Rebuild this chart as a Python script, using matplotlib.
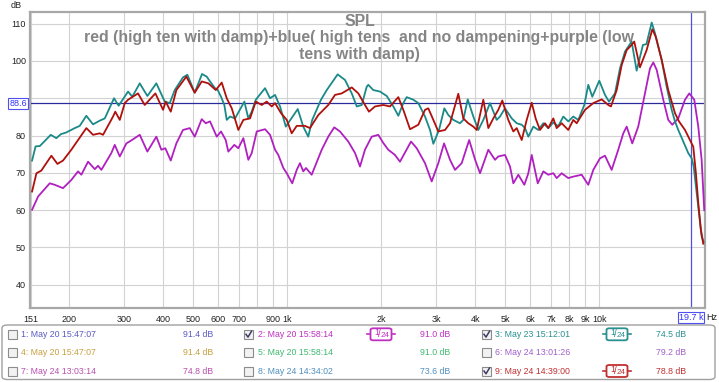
import matplotlib
matplotlib.use("Agg")
import matplotlib.pyplot as plt
from matplotlib.patches import FancyBboxPatch, Rectangle
from matplotlib.lines import Line2D

plt.rcParams['font.family'] = ['Liberation Sans', 'DejaVu Sans']

# ---------------- data ----------------
teal_freq = [152, 156, 161, 174.5, 181.8, 188.2, 195.3, 208.3, 216.1, 226.9, 238.4, 250.5, 260,
             278.3, 288, 308.7, 318.5, 336.5, 356, 380.4, 404.7, 420, 435.7, 463.1, 478.3, 504.9,
             532.9, 551.7, 565.3, 586.6, 598.4, 613.1, 628.3, 639.5, 655.3, 680, 728.3, 750, 769,
             792.2, 848.5, 880.3, 913.5, 947.8, 988.9, 1080, 1125, 1167, 1202, 1282, 1338, 1450,
             1531, 1609, 1670, 1732, 1797, 1818, 1886, 1982, 2083, 2187, 2269, 2354, 2413, 2535,
             2630, 2763, 2867, 2938, 3064, 3187, 3282, 3405, 3577, 3665, 3787, 3947, 4095, 4249,
             4464, 4690, 4806, 4987, 5240, 5437, 5641, 5781, 5923, 6146, 6376, 6616, 6864, 7122,
             7389, 7667, 7954, 8255, 8564, 8953, 9220, 9497, 10000, 10431, 10743, 11228, 11650,
             12089, 12698, 13176, 13802, 14162, 14723, 15088, 15847, 16443, 17062, 17485, 17913,
             18588, 19285, 19776, 20069, 21285, 21600]
teal_db = [73.3, 77.1, 77.2, 80.2, 79.3, 80.4, 80.8, 82.0, 82.6, 85.3, 83.0, 84.0, 84.6,
           90.0, 88.0, 91.8, 90.4, 94.0, 90.6, 94.0, 89.1, 88.7, 92.2, 95.6, 96.3, 91.5,
           96.5, 95.8, 94.5, 92.7, 92.2, 90.4, 88.2, 84.2, 85.1, 84.6, 89.1, 84.6, 86.4,
           89.6, 92.7, 90.0, 90.9, 87.8, 82.4, 87.1, 82.4, 79.7, 84.2, 89.6, 92.2, 96.4,
           94.9, 91.3, 87.8, 88.2, 93.1, 93.6, 92.2, 91.8, 90.6, 87.8, 85.3, 88.7, 90.3, 89.6,
           88.7, 85.1, 81.5, 77.8, 81.5, 87.3, 85.5, 84.2, 83.3, 84.2, 89.7, 85.1, 81.5, 84.2,
           88.7, 84.2, 85.1, 87.3, 84.6, 83.3, 82.9, 82.0, 79.7, 82.4, 81.5, 83.3, 82.0, 83.5,
           82.5, 85.1, 83.8, 85.1, 84.2, 88.2, 93.6, 90.4, 94.7, 90.9, 89.1, 91.3, 98.0,
           102.5, 105.2, 97.4, 104.3, 104.5, 110.3, 107.4, 100.3, 93.1, 86.9, 83.8, 81.5,
           78.4, 75.3, 73.9, 71.7, 53.0, 51.5]

red_freq = [152, 157, 162.7, 175.3, 183.3, 191, 203.1, 213.4, 226.9, 238.4, 250.5, 256.7, 276.3,
            280.9, 290.4, 301.3, 308.7, 332.2, 349.1, 377.7, 399.7, 407.6, 423, 440.9, 474.6,
            504.9, 531.7, 558.2, 589.7, 616.3, 639.5, 663.6, 696.6, 722.9, 759.5, 792.2, 828,
            859.2, 891.4, 913.5, 954.8, 995.9, 1033, 1072, 1139, 1182, 1257, 1353, 1422, 1494,
            1609, 1689, 1774, 1827, 1910, 2031, 2134, 2269, 2354, 2474, 2630, 2763, 2831, 2938,
            3048, 3203, 3323, 3533, 3665, 3803, 3947, 4047, 4249, 4409, 4574, 4746, 4888, 5109,
            5303, 5437, 5641, 5853, 6074, 6257, 6457, 6700, 6864, 7122, 7302, 7576, 7954, 8255,
            8464, 9000, 9568, 10179, 10686, 10900, 11369, 11797, 12241, 12698, 12945, 13500,
            14184, 14789, 15167, 15847, 16638, 17485, 18008, 18824, 19530, 20012, 20400, 20763,
            21150, 21539]
red_db = [65.0, 69.9, 70.6, 74.6, 72.4, 73.3, 76.2, 78.8, 82.0, 80.2, 80.6, 80.2, 85.1,
          86.4, 84.2, 88.7, 89.6, 91.3, 88.2, 91.3, 86.9, 89.1, 86.4, 92.2, 95.8,
          91.5, 94.5, 94.0, 92.2, 94.2, 90.0, 87.3, 81.5, 84.2, 84.6, 89.1, 88.2,
          89.1, 87.8, 88.7, 86.0, 84.2, 80.6, 82.6, 82.6, 82.0, 85.5, 88.2, 90.9, 91.3,
          92.9, 91.3, 88.2, 86.4, 87.8, 88.2, 87.8, 90.3, 86.9, 81.7, 82.9, 86.9, 87.3, 84.2,
          81.1, 81.5, 83.3, 91.2, 84.6, 83.3, 82.4, 81.5, 89.6, 82.0, 84.6, 86.9, 89.4, 84.2,
          81.1, 82.0, 78.8, 84.2, 88.8, 84.5, 81.5, 83.3, 82.0, 84.6, 82.0, 83.3, 81.5, 84.2,
          83.3, 86.9, 88.7, 89.7, 88.2, 87.8, 92.2, 98.9, 102.9, 104.3, 105.2, 98.3,
          102.9, 108.5, 106.5, 100.3, 92.2, 86.0, 83.8, 81.5, 78.8, 77.0, 70.0, 62.0,
          55.0, 51.0]

purple_freq = [152, 159, 173.2, 179.7, 191, 203.1, 213.4, 218.7, 229.8, 241.5, 247.4, 253.5,
               272.8, 279.8, 290.4, 304.9, 316.2, 336.5, 356, 380.4, 394.7, 406.5, 423, 440.9,
               463.1, 486.7, 504.9, 531.7, 547.7, 565.3, 594, 613.1, 634.8, 647, 676.5, 696.6,
               722.9, 750, 769, 798, 848.5, 880.3, 913.5, 935.8, 971.2, 995.9, 1037, 1072, 1098,
               1125, 1148, 1197, 1289, 1353, 1414, 1475, 1568, 1649, 1710, 1774, 1864, 1957, 2031,
               2107, 2214, 2297, 2492, 2599, 2763, 2903, 3048, 3180, 3323, 3448, 3622, 3828, 4000,
               4147, 4409, 4632, 4746, 4987, 5175, 5303, 5502, 5751, 5923, 6074, 6350, 6616, 6864,
               7122, 7302, 7576, 7954, 8255, 8782, 9220, 9568, 10052, 10431, 10956, 11503, 11938,
               12241, 12754, 13331, 14009, 14540, 14899, 15277, 16037, 16638, 17138, 17913, 18824,
               19430, 20161, 20763, 21285, 21700]
purple_db = [60.1, 63.7, 67.2, 66.8, 65.9, 68.1, 70.4, 69.5, 73.0, 71.0, 71.9, 70.8,
             75.3, 77.5, 74.4, 77.9, 78.7, 80.2, 75.7, 79.7, 76.2, 76.6, 73.3, 77.9,
             81.5, 82.0, 79.7, 84.4, 83.3, 83.8, 79.7, 81.1, 78.8, 75.7, 77.5, 76.6,
             79.3, 73.5, 75.3, 81.1, 81.7, 80.2, 76.2, 74.8, 71.3, 69.9, 67.2, 70.8, 72.6,
             70.4, 71.3, 69.5, 76.2, 79.7, 82.2, 81.1, 78.4, 75.3, 71.7, 76.2, 79.7, 80.2, 78.0,
             76.2, 74.8, 73.0, 78.4, 76.6, 72.6, 67.7, 72.6, 77.9, 73.5, 70.8, 72.6, 78.8, 73.5,
             69.9, 76.2, 73.5, 74.4, 74.8, 71.7, 67.2, 69.5, 66.8, 69.9, 74.8, 67.2, 70.4, 69.5,
             69.9, 68.6, 69.9, 68.6, 69.0, 69.5, 66.8, 70.8, 73.9, 74.6, 70.8, 76.2, 80.6,
             82.4, 77.9, 82.4, 91.3, 98.0, 99.6, 97.6, 89.6, 84.2, 82.9, 84.6, 89.6,
             91.3, 89.6, 82.4, 73.5, 60.0]

x_ticks = [151, 200, 300, 400, 500, 600, 700, 800, 900, 1000, 2000, 3000, 4000, 5000,
           6000, 7000, 8000, 9000, 10000]
x_tick_labels = ['151', '200', '300', '400', '500', '600', '700', '', '900', '1k', '2k', '3k',
                 '4k', '5k', '6k', '7k', '8k', '9k', '10k']
y_ticks = [40, 50, 60, 70, 80, 90, 100, 110]
y_tick_labels = ['40', '50', '60', '70', '80', '', '100', '110']  # "90" sits under the 88.6 cursor box

title_lines = ["SPL",
               "red (high ten with damp)+blue( high tens  and no dampening+purple (low",
               "tens with damp)"]
cursor_db = 88.6
cursor_freq = 19700

legend_labels = ["1: May 20 15:47:07", "2: May 20 15:58:14", "3: May 23 15:12:01",
                 "4: May 20 15:47:07", "5: May 20 15:58:14", "6: May 24 13:01:26",
                 "7: May 24 13:03:14", "8: May 24 14:34:02", "9: May 24 14:39:00"]
legend_levels = ["91.4 dB", "91.0 dB", "74.5 dB", "91.4 dB", "91.0 dB", "79.2 dB",
                 "74.8 dB", "73.6 dB", "78.8 dB"]
legend_checked = [False, True, True, False, False, False, False, False, True]
legend_colors = ["#5a5ac4", "#c030c0", "#2a9090", "#c8a040", "#40b870", "#a060c8",
                 "#b850b0", "#5090c0", "#c03030"]

# ---------------- figure ----------------
W, H = 719, 382
fig = plt.figure(figsize=(W / 100, H / 100), dpi=100)
fig.patch.set_facecolor('white')


def fx(x):
    return x / W


def fy(y):
    return 1 - y / H


L, R, T, B = 30, 704.5, 11.7, 308.3
ax = fig.add_axes([fx(L), fy(B), fx(R) - fx(L), fy(T) - fy(B)])
ax.set_xscale('log')
ax.set_xlim(149.7, 21740)
ax.set_ylim(33.7, 113.2)

ax.set_xticks(x_ticks)
ax.set_xticklabels(x_tick_labels)
ax.xaxis.set_minor_locator(matplotlib.ticker.NullLocator())
ax.set_yticks(y_ticks)
ax.set_yticklabels(y_tick_labels)
ax.tick_params(axis='both', length=0, labelsize=6.5, colors='#222222')
ax.tick_params(axis='x', pad=4.5)
ax.tick_params(axis='y', pad=3)
ax.grid(True, color='#d2d2d2', linewidth=0.8)
ax.set_axisbelow(True)
for s in ax.spines.values():
    s.set_color('#a8a8a8')
    s.set_linewidth(1.6)

# title inside plot, behind the curves
for i, line in enumerate(title_lines):
    ax.text(fx(359.5), fy(21 + i * 16.5), line, transform=fig.transFigure, ha='center',
            va='center', fontsize=11.4, fontweight='bold', color='#858585', zorder=1)

# cursors
ax.axhline(cursor_db, color='#2a2a9a', linewidth=0.9, zorder=2)
ax.axvline(cursor_freq, color='#5050e0', linewidth=0.9, zorder=2)

# curves
ax.plot(purple_freq, purple_db, color='#b020c0', linewidth=1.3, zorder=3)
ax.plot(teal_freq, teal_db, color='#1a8a88', linewidth=1.3, zorder=4)
ax.plot(red_freq, red_db, color='#b0100c', linewidth=1.3, zorder=5)

# cursor labels
fig.text(fx(18), fy(103.5), "88.6", ha='center', va='center', fontsize=6.5, color='#3030ff',
         bbox=dict(boxstyle='square,pad=0.15', fc='white', ec='#5050f0', lw=0.8), zorder=10)
fig.text(fx(691), fy(317.5), "19.7 k", ha='center', va='center', fontsize=6.5, color='#3030ff',
         bbox=dict(boxstyle='square,pad=0.1', fc='white', ec='#5050f0', lw=0.8), zorder=10)
fig.text(fx(712), fy(317.5), "Hz", ha='center', va='center', fontsize=6.5, color='#222222')
fig.text(fx(16), fy(5), "dB", ha='center', va='center', fontsize=6.5, color='#222222')

# legend panel
panel = FancyBboxPatch((fx(2), fy(379.5)), fx(715) - fx(2), fy(325) - fy(379.5),
                       boxstyle='round,pad=0,rounding_size=0.008', transform=fig.transFigure,
                       fc='white', ec='#a0a0a0', lw=1.0)
fig.patches.append(panel)

row_y = [334.3, 352.7, 371.0]
col_box = [8, 244, 482]
col_text = [21, 258, 495]
col_badge = [381, 617]
col_level = [213, 450, 686]


def checkbox(x0, yc, checked):
    r = Rectangle((fx(x0), fy(yc + 4.5)), 9 / W, 9 / H, transform=fig.transFigure,
                  fc='#f2f2f2', ec='#8c8c8c', lw=0.8)
    fig.patches.append(r)
    if checked:
        fig.lines.append(Line2D([fx(x0 + 2), fx(x0 + 4), fx(x0 + 7.5)],
                                [fy(yc), fy(yc + 2.8), fy(yc - 3)],
                                transform=fig.transFigure, color='#3c3c64', lw=1.1))


def badge(xc, yc, color):
    fig.lines.append(Line2D([fx(xc - 14), fx(xc + 14)], [fy(yc), fy(yc)],
                            transform=fig.transFigure, color=color, lw=1.2))
    b = FancyBboxPatch((fx(xc - 10.5), fy(yc + 6)), 21 / W, 12 / H,
                       boxstyle='round,pad=0,rounding_size=0.004', transform=fig.transFigure,
                       fc='white', ec=color, lw=1.3, zorder=3)
    fig.patches.append(b)
    fig.text(fx(xc - 4), fy(yc - 1.5), "1", ha='center', va='center', fontsize=6.5,
             color=color, zorder=4)
    fig.text(fx(xc - 1.2), fy(yc), "/", ha='center', va='center', fontsize=7,
             color=color, zorder=4)
    fig.text(fx(xc + 4), fy(yc + 1.5), "24", ha='center', va='center', fontsize=5.8,
             color=color, zorder=4)


for idx in range(9):
    r, c = divmod(idx, 3)
    yc = row_y[r]
    col = legend_colors[idx]
    checkbox(col_box[c], yc, legend_checked[idx])
    fig.text(fx(col_text[c]), fy(yc), legend_labels[idx], ha='left', va='center',
             fontsize=6.3, color=col)
    fig.text(fx(col_level[c]), fy(yc), legend_levels[idx], ha='right', va='center',
             fontsize=6.3, color=col)
    if legend_checked[idx] and c >= 1:
        badge(col_badge[c - 1], yc, col)

fig.savefig('out.png', dpi=100)
